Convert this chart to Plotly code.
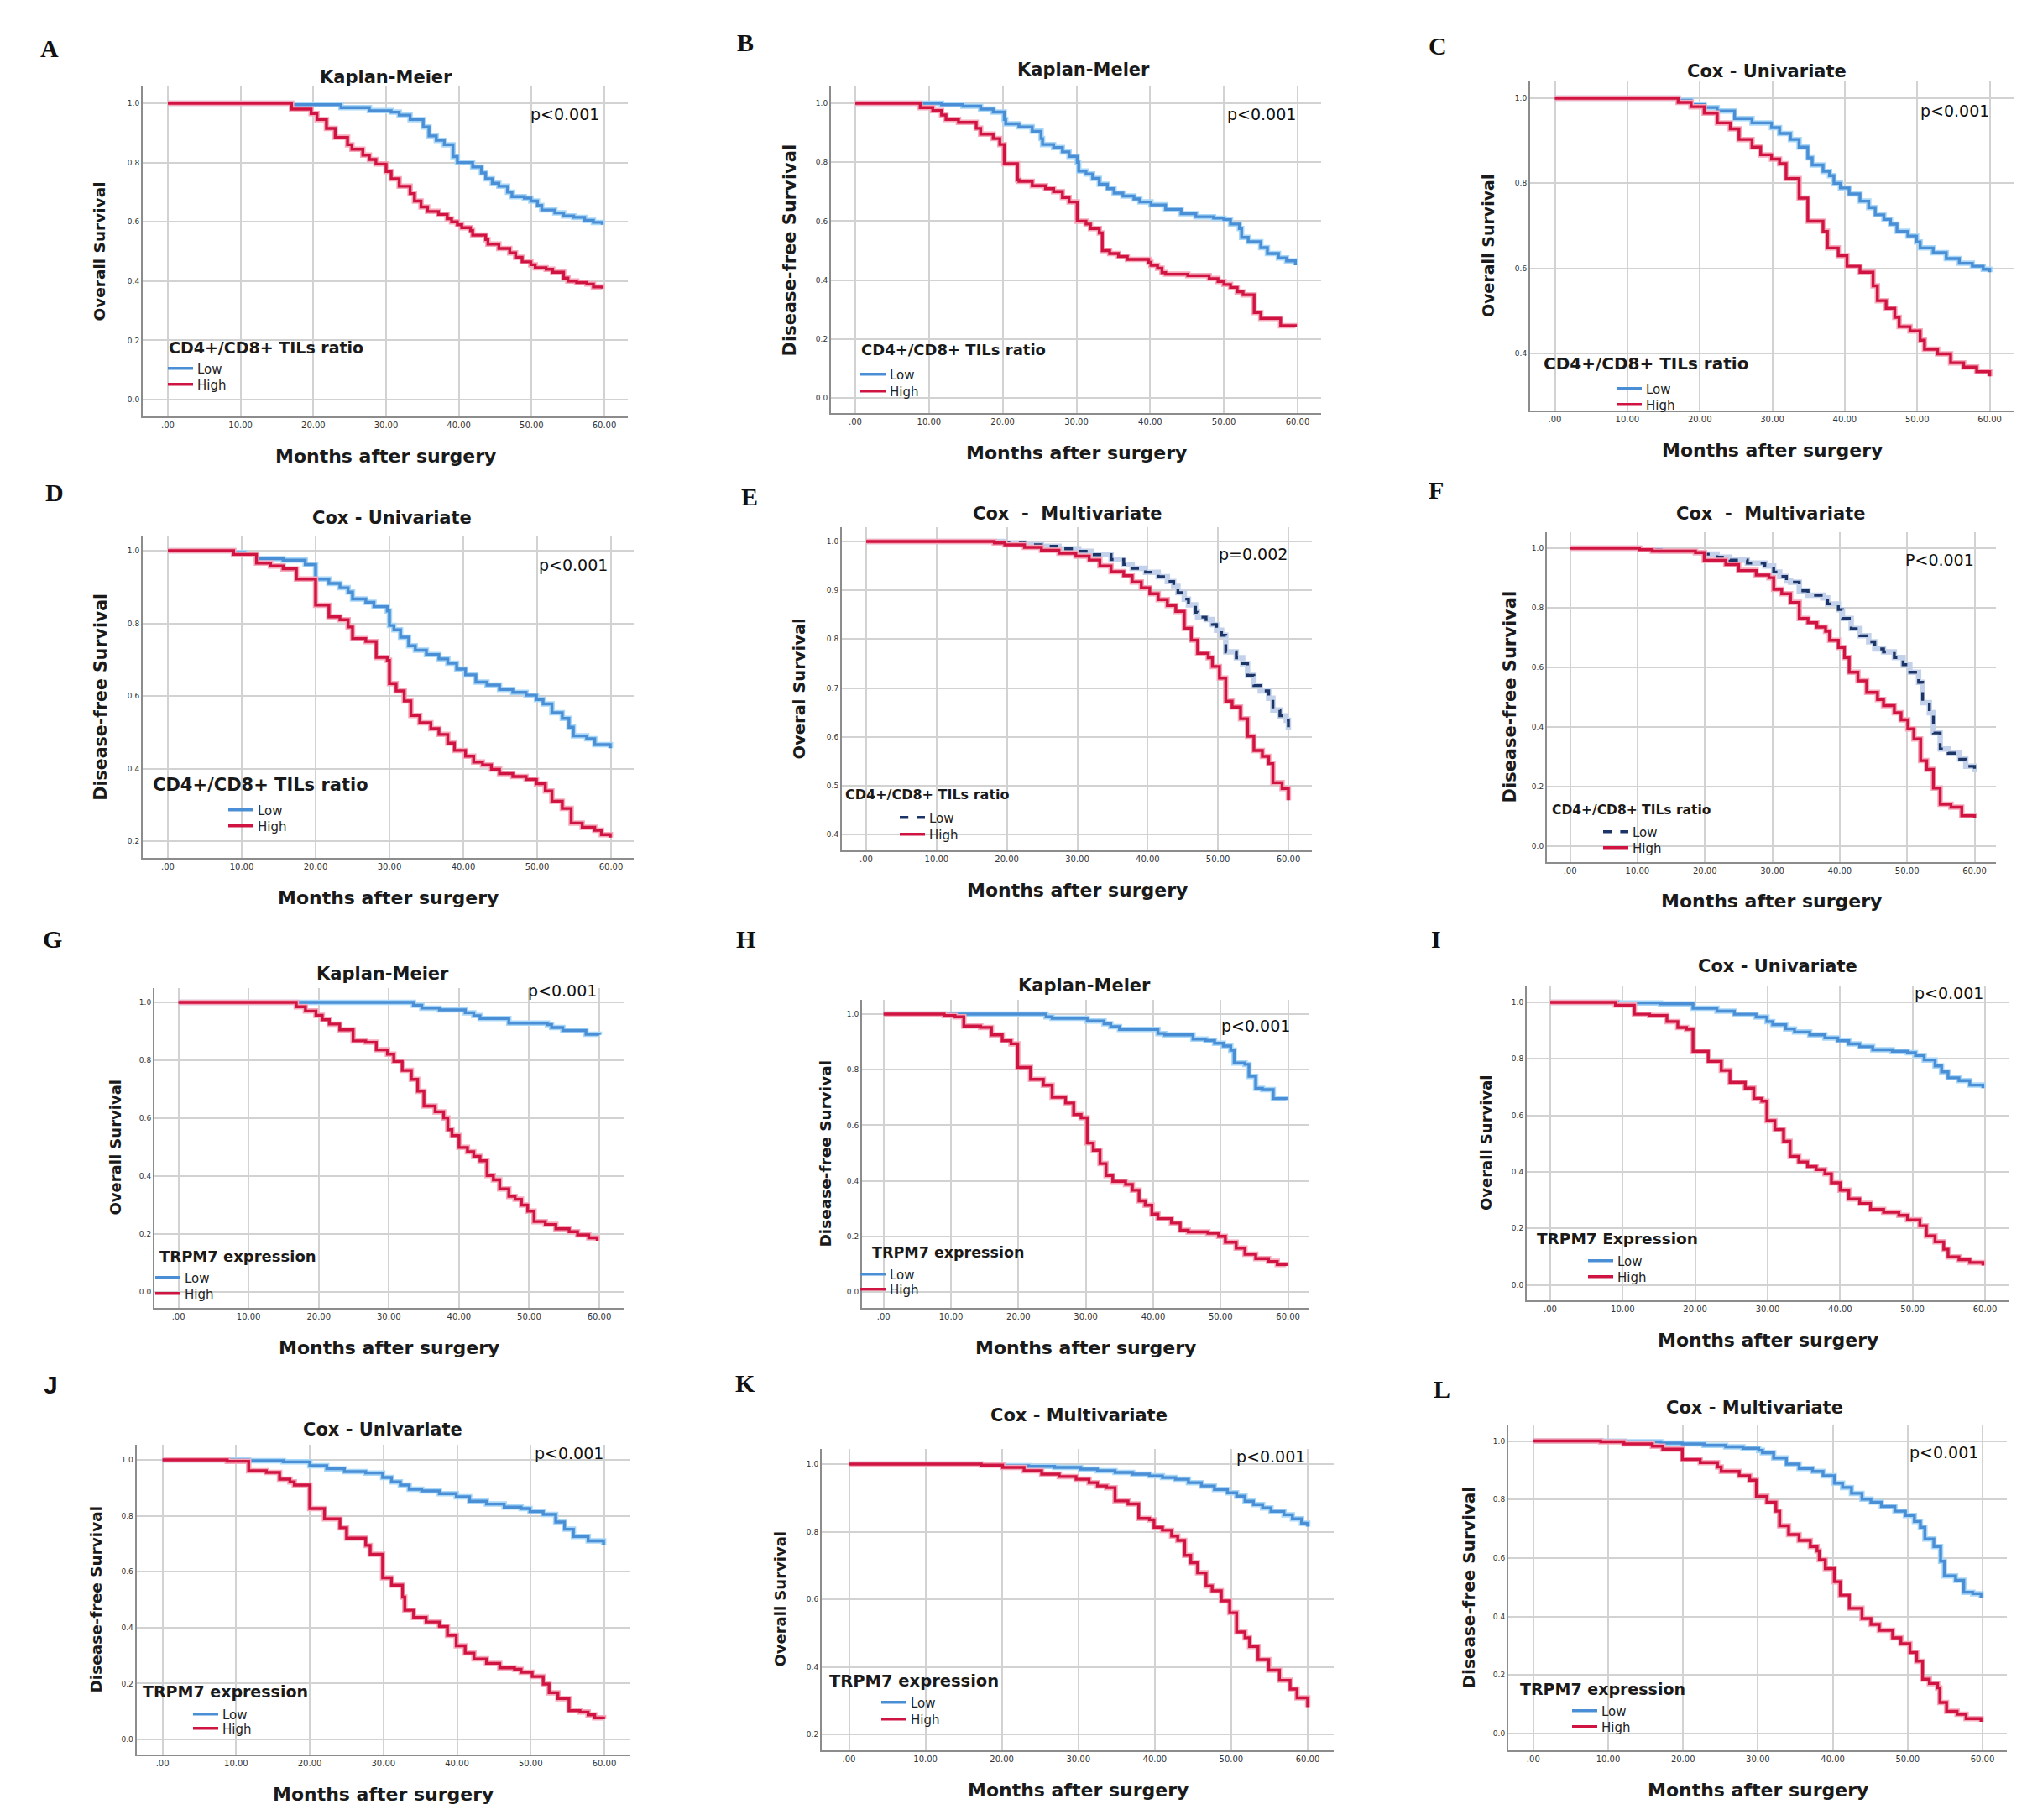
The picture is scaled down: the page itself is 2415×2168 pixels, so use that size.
import plotly.graph_objects as go

W, H = 2415, 2168

# ---------------- tick labels / categories ----------------
XTICK_VALS = [0, 10, 20, 30, 40, 50, 60]
XTICK_TEXT = ['.00', '10.00', '20.00', '30.00', '40.00', '50.00', '60.00']
YT_0_1 = [0.0, 0.2, 0.4, 0.6, 0.8, 1.0]
YT_04_1 = [0.4, 0.6, 0.8, 1.0]
YT_02_1 = [0.2, 0.4, 0.6, 0.8, 1.0]
YT_E = [0.4, 0.5, 0.6, 0.7, 0.8, 0.9, 1.0]
GROUPS = ['Low', 'High']

# ---------------- survival data (months, survival probability) ----------------
A_low_t = [0, 17.0, 23.8, 27.7, 30.7, 31.8, 33.3, 35.1, 35.9, 36.9, 38.0, 39.2, 39.8, 41.9, 43.1, 43.7, 44.6, 45.5, 46.7, 47.3, 49.0, 49.9, 50.8, 51.4, 53.2, 54.4, 55.8, 57.3, 58.5, 59.7]
A_low_s = [1.0, 0.995, 0.985, 0.975, 0.97, 0.96, 0.945, 0.92, 0.89, 0.875, 0.86, 0.82, 0.80, 0.785, 0.765, 0.745, 0.73, 0.72, 0.70, 0.685, 0.68, 0.67, 0.655, 0.64, 0.63, 0.62, 0.615, 0.605, 0.598, 0.59]
A_high_t = [0, 17.0, 19.7, 20.5, 21.8, 23.0, 24.7, 25.3, 26.8, 27.7, 28.6, 30.0, 30.7, 31.8, 33.3, 33.9, 34.8, 35.7, 37.2, 38.4, 39.0, 39.8, 40.4, 41.6, 41.9, 43.7, 44.0, 45.5, 47.0, 47.8, 48.7, 49.9, 50.5, 52.0, 52.9, 54.4, 55.0, 56.2, 57.6, 58.5, 59.7]
A_high_s = [1.0, 0.98, 0.965, 0.945, 0.915, 0.885, 0.86, 0.845, 0.825, 0.81, 0.795, 0.77, 0.745, 0.72, 0.695, 0.67, 0.65, 0.635, 0.625, 0.61, 0.60, 0.59, 0.58, 0.57, 0.555, 0.54, 0.525, 0.51, 0.495, 0.48, 0.465, 0.455, 0.445, 0.44, 0.43, 0.41, 0.40, 0.395, 0.39, 0.38, 0.375]

B_low_t = [0, 11.7, 14.6, 17.0, 18.7, 20.2, 20.4, 22.2, 24.0, 25.2, 25.4, 26.9, 28.1, 29.0, 30.1, 30.3, 31.3, 32.2, 33.1, 34.2, 35.1, 36.3, 37.8, 38.6, 40.1, 42.1, 44.2, 46.2, 48.6, 50.0, 50.9, 52.1, 52.4, 53.3, 55.0, 55.9, 57.4, 58.5, 59.7]
B_low_s = [1.0, 0.995, 0.99, 0.98, 0.97, 0.945, 0.93, 0.92, 0.905, 0.88, 0.86, 0.85, 0.835, 0.82, 0.80, 0.77, 0.76, 0.745, 0.725, 0.71, 0.695, 0.685, 0.675, 0.665, 0.655, 0.64, 0.625, 0.615, 0.61, 0.605, 0.59, 0.575, 0.545, 0.53, 0.51, 0.49, 0.475, 0.465, 0.45]
B_high_t = [0, 8.8, 10.5, 11.7, 12.3, 14.0, 16.4, 17.0, 18.7, 19.6, 20.2, 22.0, 22.2, 24.0, 25.8, 26.9, 28.1, 29.0, 30.1, 31.3, 31.9, 33.1, 33.5, 34.5, 35.7, 36.9, 39.8, 40.1, 41.0, 41.6, 42.1, 45.1, 48.0, 49.2, 50.0, 50.9, 51.8, 52.6, 54.1, 55.0, 57.7, 59.7]
B_high_s = [1.0, 0.985, 0.975, 0.96, 0.945, 0.935, 0.915, 0.895, 0.88, 0.86, 0.795, 0.74, 0.735, 0.72, 0.71, 0.70, 0.68, 0.665, 0.60, 0.59, 0.575, 0.56, 0.50, 0.49, 0.48, 0.47, 0.46, 0.45, 0.44, 0.425, 0.42, 0.415, 0.405, 0.395, 0.385, 0.375, 0.36, 0.35, 0.29, 0.27, 0.245, 0.24]

C_low_t = [0, 17.0, 18.8, 20.6, 22.4, 24.8, 27.2, 29.9, 31.0, 32.5, 33.7, 34.9, 35.5, 37.0, 37.9, 38.5, 39.4, 40.6, 42.1, 43.3, 44.2, 45.4, 46.3, 47.2, 48.7, 49.9, 50.4, 52.2, 54.0, 55.8, 57.6, 59.1, 60.0]
C_low_s = [1.0, 0.995, 0.985, 0.978, 0.97, 0.952, 0.942, 0.931, 0.917, 0.903, 0.885, 0.86, 0.843, 0.828, 0.818, 0.80, 0.789, 0.775, 0.758, 0.743, 0.726, 0.715, 0.704, 0.687, 0.676, 0.662, 0.648, 0.637, 0.623, 0.612, 0.605, 0.598, 0.591]
C_high_t = [0, 17.0, 18.8, 20.6, 22.4, 24.2, 25.4, 27.2, 28.4, 29.9, 31.0, 31.9, 33.7, 34.9, 37.0, 37.6, 39.1, 40.3, 42.1, 43.9, 44.5, 45.7, 46.9, 47.5, 49.0, 50.4, 51.0, 52.8, 54.6, 56.4, 58.2, 60.0]
C_high_s = [1.0, 0.99, 0.98, 0.965, 0.942, 0.928, 0.903, 0.885, 0.867, 0.857, 0.846, 0.811, 0.765, 0.711, 0.687, 0.648, 0.63, 0.605, 0.591, 0.559, 0.524, 0.506, 0.485, 0.463, 0.453, 0.431, 0.41, 0.399, 0.378, 0.368, 0.357, 0.346]

D_low_t = [0, 8.9, 10.4, 12.0, 15.6, 18.6, 20.0, 21.8, 23.3, 24.4, 25.0, 26.8, 27.9, 29.7, 30.0, 30.6, 31.5, 32.6, 33.5, 35.0, 36.7, 37.9, 39.1, 40.3, 41.7, 43.2, 44.9, 46.7, 48.5, 49.9, 50.8, 52.0, 53.4, 54.3, 54.9, 56.7, 57.8, 59.9]
D_low_s = [1.0, 0.995, 0.99, 0.978, 0.974, 0.962, 0.922, 0.910, 0.898, 0.886, 0.867, 0.858, 0.846, 0.834, 0.794, 0.782, 0.762, 0.738, 0.726, 0.714, 0.702, 0.690, 0.674, 0.658, 0.638, 0.630, 0.618, 0.610, 0.602, 0.590, 0.578, 0.554, 0.538, 0.514, 0.490, 0.482, 0.466, 0.456]
D_high_t = [0, 8.9, 12.0, 13.9, 15.6, 17.4, 20.0, 21.8, 23.3, 24.4, 25.0, 26.8, 28.2, 29.7, 30.0, 30.9, 32.0, 32.9, 34.1, 35.6, 36.7, 37.9, 38.8, 40.3, 41.4, 42.6, 43.8, 44.9, 46.7, 48.5, 49.9, 51.1, 52.0, 53.4, 54.6, 56.1, 57.8, 58.7, 59.9]
D_high_s = [1.0, 0.99, 0.966, 0.958, 0.95, 0.922, 0.85, 0.818, 0.81, 0.79, 0.758, 0.75, 0.706, 0.698, 0.634, 0.614, 0.586, 0.546, 0.526, 0.51, 0.494, 0.47, 0.45, 0.434, 0.418, 0.41, 0.398, 0.386, 0.378, 0.37, 0.358, 0.338, 0.31, 0.29, 0.25, 0.238, 0.23, 0.218, 0.21]

E_low_t = [0, 19.4, 22.5, 24.9, 27.4, 30.2, 32.0, 34.8, 36.6, 37.8, 39.7, 41.5, 42.8, 43.7, 44.3, 45.2, 45.8, 46.8, 47.1, 48.3, 49.2, 49.8, 50.5, 51.1, 52.6, 53.5, 54.2, 55.1, 56.0, 57.2, 57.8, 58.8, 59.7, 60.0]
E_low_s = [1.0, 0.997, 0.993, 0.99, 0.985, 0.98, 0.973, 0.963, 0.953, 0.945, 0.937, 0.928, 0.918, 0.908, 0.895, 0.882, 0.87, 0.855, 0.845, 0.84, 0.83, 0.818, 0.808, 0.774, 0.762, 0.75, 0.726, 0.705, 0.694, 0.679, 0.655, 0.643, 0.634, 0.613]
E_high_t = [0, 18.2, 19.7, 22.5, 24.9, 27.4, 29.8, 31.7, 33.2, 34.8, 36.6, 37.8, 39.1, 40.3, 41.5, 42.8, 44.0, 45.2, 46.2, 47.1, 48.6, 49.2, 50.2, 51.1, 52.0, 53.2, 54.2, 55.1, 56.3, 57.2, 57.8, 59.1, 60.0]
E_high_s = [1.0, 0.997, 0.993, 0.988, 0.982, 0.976, 0.97, 0.962, 0.95, 0.938, 0.93, 0.917, 0.905, 0.893, 0.881, 0.869, 0.857, 0.822, 0.798, 0.771, 0.762, 0.744, 0.72, 0.673, 0.661, 0.637, 0.601, 0.572, 0.56, 0.545, 0.506, 0.494, 0.47]

F_low_t = [0, 10.3, 13.5, 18.6, 19.9, 21.8, 23.7, 26.3, 28.9, 30.2, 31.1, 32.1, 32.7, 34.0, 35.3, 37.5, 38.2, 39.8, 40.4, 41.7, 43.0, 44.3, 45.2, 46.5, 48.1, 49.4, 50.4, 51.7, 52.3, 53.3, 53.9, 54.9, 56.1, 57.8, 58.7, 60.0]
F_low_s = [1.0, 0.995, 0.99, 0.985, 0.98, 0.97, 0.96, 0.95, 0.94, 0.92, 0.905, 0.89, 0.886, 0.857, 0.842, 0.833, 0.813, 0.794, 0.764, 0.73, 0.706, 0.686, 0.662, 0.652, 0.633, 0.609, 0.584, 0.55, 0.482, 0.448, 0.38, 0.326, 0.312, 0.292, 0.268, 0.248]
F_high_t = [0, 10.3, 12.2, 18.6, 19.9, 23.1, 25.0, 27.6, 29.5, 30.2, 31.4, 32.7, 34.0, 35.3, 36.6, 37.9, 38.5, 39.8, 40.7, 41.4, 42.7, 44.0, 45.6, 46.5, 48.1, 49.1, 50.1, 51.0, 52.0, 52.9, 53.9, 54.9, 56.5, 58.1, 60.0]
F_high_s = [1.0, 0.995, 0.99, 0.985, 0.959, 0.945, 0.925, 0.91, 0.901, 0.862, 0.847, 0.818, 0.764, 0.75, 0.735, 0.721, 0.691, 0.667, 0.633, 0.584, 0.555, 0.516, 0.492, 0.472, 0.448, 0.424, 0.394, 0.36, 0.287, 0.258, 0.195, 0.141, 0.131, 0.102, 0.093]

G_low_t = [0, 33.5, 34.7, 37.2, 40.9, 42.1, 43.0, 47.1, 52.6, 53.2, 54.8, 58.1, 60.0]
G_low_s = [1.0, 0.99, 0.98, 0.974, 0.964, 0.954, 0.944, 0.928, 0.923, 0.913, 0.903, 0.89, 0.888]
G_high_t = [0, 16.8, 18.1, 19.6, 20.5, 21.5, 23.0, 24.9, 26.7, 28.2, 29.8, 30.7, 31.9, 33.2, 34.1, 35.0, 36.6, 37.8, 38.4, 39.0, 40.0, 41.2, 42.1, 43.0, 44.0, 44.9, 45.8, 47.1, 48.0, 48.9, 49.8, 50.7, 52.3, 53.8, 55.7, 56.9, 58.5, 59.7]
G_high_s = [1.0, 0.985, 0.97, 0.955, 0.94, 0.925, 0.905, 0.867, 0.862, 0.836, 0.821, 0.796, 0.765, 0.734, 0.693, 0.642, 0.622, 0.601, 0.56, 0.54, 0.499, 0.484, 0.468, 0.453, 0.402, 0.387, 0.356, 0.33, 0.32, 0.3, 0.279, 0.243, 0.233, 0.218, 0.208, 0.197, 0.187, 0.177]

H_low_t = [0, 24.1, 25.0, 30.2, 32.7, 33.7, 35.0, 40.7, 41.7, 45.9, 47.8, 49.1, 50.4, 51.5, 52.0, 53.6, 54.2, 55.2, 56.2, 57.8, 59.7]
H_low_s = [1.0, 0.99, 0.985, 0.975, 0.965, 0.955, 0.945, 0.93, 0.925, 0.91, 0.905, 0.895, 0.885, 0.87, 0.824, 0.819, 0.776, 0.733, 0.728, 0.696, 0.691]
H_high_t = [0, 9.0, 10.6, 11.9, 14.4, 16.0, 17.6, 18.9, 19.9, 21.8, 23.7, 25.0, 27.0, 28.2, 29.3, 30.2, 31.1, 32.1, 33.0, 34.0, 35.9, 36.9, 37.9, 38.8, 39.8, 40.7, 42.7, 44.0, 45.2, 48.1, 49.7, 50.7, 52.3, 53.6, 55.2, 57.1, 58.4, 59.7]
H_high_s = [1.0, 0.995, 0.99, 0.957, 0.952, 0.925, 0.904, 0.893, 0.808, 0.765, 0.744, 0.701, 0.68, 0.638, 0.627, 0.536, 0.51, 0.462, 0.419, 0.398, 0.387, 0.366, 0.328, 0.312, 0.28, 0.264, 0.248, 0.222, 0.216, 0.211, 0.2, 0.179, 0.158, 0.136, 0.12, 0.11, 0.099, 0.094]

I_low_t = [0, 9.3, 15.2, 19.7, 23.0, 25.4, 28.4, 29.9, 30.7, 32.5, 33.7, 35.8, 37.9, 39.7, 41.2, 42.7, 44.5, 47.2, 49.3, 50.4, 51.6, 53.1, 54.0, 54.9, 56.4, 57.9, 59.7]
I_low_s = [1.0, 0.998, 0.995, 0.979, 0.969, 0.958, 0.948, 0.932, 0.921, 0.906, 0.895, 0.885, 0.874, 0.864, 0.853, 0.843, 0.832, 0.827, 0.822, 0.812, 0.796, 0.775, 0.754, 0.733, 0.723, 0.707, 0.696]
I_high_t = [0, 9.0, 11.6, 13.7, 16.1, 17.6, 18.8, 19.7, 21.8, 23.6, 24.8, 26.9, 28.1, 29.2, 29.9, 31.0, 32.2, 33.1, 34.3, 35.5, 36.7, 37.9, 38.8, 40.0, 41.2, 42.7, 44.2, 46.0, 48.1, 49.3, 51.0, 51.9, 53.1, 54.3, 54.9, 56.4, 57.9, 59.7]
I_high_s = [1.0, 0.99, 0.958, 0.953, 0.932, 0.911, 0.905, 0.827, 0.791, 0.759, 0.717, 0.696, 0.66, 0.65, 0.581, 0.55, 0.508, 0.455, 0.435, 0.419, 0.408, 0.393, 0.361, 0.335, 0.304, 0.288, 0.267, 0.257, 0.246, 0.23, 0.209, 0.173, 0.152, 0.126, 0.099, 0.089, 0.079, 0.068]

J_low_t = [0, 11.7, 16.4, 20.0, 22.3, 24.7, 27.6, 29.9, 31.1, 32.3, 33.5, 35.2, 37.6, 39.9, 41.7, 44.0, 46.4, 48.7, 49.9, 51.7, 53.4, 54.6, 55.8, 57.8, 59.9]
J_low_s = [1.0, 0.997, 0.993, 0.979, 0.968, 0.958, 0.953, 0.937, 0.921, 0.91, 0.895, 0.889, 0.879, 0.868, 0.852, 0.842, 0.831, 0.826, 0.815, 0.805, 0.778, 0.752, 0.726, 0.71, 0.696]
J_high_t = [0, 8.8, 11.7, 14.1, 15.9, 17.3, 17.9, 20.0, 22.0, 24.1, 25.0, 27.6, 28.2, 29.9, 31.1, 32.6, 32.9, 34.1, 35.8, 37.6, 38.7, 39.9, 41.1, 42.3, 44.0, 45.8, 47.8, 48.7, 50.2, 51.7, 52.5, 53.7, 55.2, 56.7, 57.8, 58.7, 59.9]
J_high_s = [1.0, 0.995, 0.961, 0.955, 0.931, 0.921, 0.91, 0.826, 0.789, 0.757, 0.72, 0.694, 0.662, 0.578, 0.552, 0.509, 0.462, 0.436, 0.42, 0.404, 0.372, 0.335, 0.309, 0.288, 0.272, 0.256, 0.251, 0.24, 0.225, 0.198, 0.167, 0.146, 0.103, 0.098, 0.088, 0.077, 0.072]

K_low_t = [0, 17.3, 20.1, 23.5, 26.9, 30.3, 32.5, 34.8, 37.1, 39.3, 41.0, 42.7, 44.4, 46.1, 47.8, 49.5, 50.7, 51.8, 52.9, 54.1, 55.2, 56.9, 58.0, 59.2, 60.0]
K_low_s = [1.0, 0.998, 0.995, 0.993, 0.99, 0.985, 0.98, 0.975, 0.97, 0.965, 0.96, 0.955, 0.945, 0.935, 0.925, 0.915, 0.905, 0.89, 0.88, 0.87, 0.86, 0.85, 0.838, 0.825, 0.815]
K_high_t = [0, 17.3, 20.1, 22.9, 25.2, 27.5, 29.7, 31.4, 32.5, 33.7, 34.8, 36.5, 37.9, 39.3, 39.9, 41.0, 42.2, 43.0, 43.9, 44.7, 45.6, 46.7, 47.5, 48.7, 49.8, 50.7, 51.8, 52.4, 53.5, 54.9, 56.3, 57.7, 58.6, 60.0]
K_high_s = [1.0, 0.997, 0.99, 0.98, 0.97, 0.963, 0.955, 0.945, 0.935, 0.93, 0.891, 0.882, 0.839, 0.835, 0.813, 0.804, 0.787, 0.774, 0.73, 0.708, 0.678, 0.639, 0.625, 0.595, 0.56, 0.503, 0.486, 0.46, 0.421, 0.39, 0.36, 0.334, 0.308, 0.281]

L_low_t = [0, 9.0, 12.1, 17.0, 19.9, 22.8, 25.7, 28.0, 30.1, 30.6, 32.1, 33.8, 35.5, 37.3, 38.7, 40.2, 41.3, 42.5, 43.9, 45.1, 46.5, 48.3, 49.7, 50.9, 51.7, 52.3, 53.5, 54.4, 54.9, 56.4, 57.5, 58.7, 59.8]
L_low_s = [1.0, 0.999, 0.997, 0.993, 0.99, 0.985, 0.98, 0.975, 0.968, 0.96, 0.942, 0.921, 0.906, 0.896, 0.881, 0.856, 0.841, 0.821, 0.801, 0.791, 0.776, 0.76, 0.745, 0.725, 0.705, 0.665, 0.639, 0.589, 0.539, 0.524, 0.483, 0.478, 0.463]
L_high_t = [0, 9.0, 12.1, 15.9, 17.3, 19.9, 22.3, 24.6, 25.1, 27.5, 28.9, 29.8, 31.2, 32.4, 32.9, 34.1, 35.5, 37.0, 37.9, 38.2, 39.0, 40.2, 41.0, 42.2, 43.9, 45.1, 46.2, 48.0, 49.1, 50.3, 51.2, 52.0, 52.9, 54.0, 54.3, 55.2, 56.6, 57.8, 59.8]
L_high_s = [1.0, 0.997, 0.99, 0.982, 0.972, 0.937, 0.926, 0.911, 0.896, 0.881, 0.866, 0.811, 0.791, 0.76, 0.71, 0.68, 0.66, 0.639, 0.624, 0.594, 0.564, 0.519, 0.473, 0.428, 0.393, 0.373, 0.353, 0.327, 0.307, 0.277, 0.247, 0.186, 0.171, 0.156, 0.106, 0.076, 0.066, 0.051, 0.04]

# ---------------- panel layout (pixel geometry of the page) ----------------
CD = 'CD4+/CD8+ TILs ratio'
TR = 'TRPM7 expression'
OS = 'Overall Survival'
DFS = 'Disease-free Survival'
KM = 'Kaplan-Meier'
CU = 'Cox - Univariate'
CM = 'Cox\u00a0\u00a0-\u00a0\u00a0Multivariate'

PANELS = [
    dict(letter='A', data=(A_low_t, A_low_s, A_high_t, A_high_s), box=(162, 740, 95, 488), xcal=(192, 712),
         ycal=(1.0, 115, 0.0, 468), yt=YT_0_1, title=KM, txy=(452, 84), lxy=(51, 50), ytitle=OS, ytx=110, yts=18.5,
         p='p<0.001', pxy=(665, 128), lt=CD, ltxy=(191, 406), lts=19, legxy=(191, 431, 450), dashed=False),
    dict(letter='B', data=(B_low_t, B_low_s, B_high_t, B_high_s), box=(982, 1566, 95, 484), xcal=(1011, 1538),
         ycal=(1.0, 115, 0.0, 466), yt=YT_0_1, title=KM, txy=(1283, 75), lxy=(880, 43), ytitle=DFS, ytx=933, yts=21,
         p='p<0.001', pxy=(1495, 128), lt=CD, ltxy=(1016, 409), lts=18, legxy=(1016, 438, 458), dashed=False),
    dict(letter='C', data=(C_low_t, C_low_s, C_high_t, C_high_s), box=(1815, 2391, 89, 481), xcal=(1844.5, 2362.6),
         ycal=(1.0, 109, 0.4, 413), yt=YT_04_1, title=CU, txy=(2097, 77), lxy=(1705, 47), ytitle=OS, ytx=1765, yts=19,
         p='p<0.001', pxy=(2321, 124), lt=CD, ltxy=(1829, 425), lts=20, legxy=(1917, 455, 474), dashed=False),
    dict(letter='D', data=(D_low_t, D_low_s, D_high_t, D_high_s), box=(162, 747, 631, 1014), xcal=(192, 720),
         ycal=(1.0, 648, 0.2, 994), yt=YT_02_1, title=CU, txy=(459, 609), lxy=(57, 578), ytitle=DFS, ytx=111, yts=20.5,
         p='p<0.001', pxy=(675, 665), lt=CD, ltxy=(172, 927), lts=21, legxy=(263, 957, 976), dashed=False),
    dict(letter='E', data=(E_low_t, E_low_s, E_high_t, E_high_s), box=(995, 1555, 620, 1005), xcal=(1024, 1527),
         ycal=(1.0, 637, 0.4, 986), yt=YT_E, title=CM, txy=(1264, 604), lxy=(885, 583), ytitle='Overal Survival', ytx=944, yts=19.5,
         p='p=0.002', pxy=(1485, 652), lt=CD, ltxy=(997, 938), lts=16, legxy=(1063, 966, 986), dashed=True),
    dict(letter='F', data=(F_low_t, F_low_s, F_high_t, F_high_s), box=(1835, 2370, 626, 1019), xcal=(1862.6, 2344.5),
         ycal=(1.0, 645, 0.0, 1000), yt=YT_0_1, title=CM, txy=(2102, 604), lxy=(1703, 575), ytitle=DFS, ytx=1790, yts=21,
         p='P<0.001', pxy=(2303, 659), lt=CD, ltxy=(1839, 957), lts=15.5, legxy=(1901, 983, 1002), dashed=True),
    dict(letter='G', data=(G_low_t, G_low_s, G_high_t, G_high_s), box=(176, 734.5, 1169, 1550), xcal=(204.6, 706),
         ycal=(1.0, 1186, 0.0, 1531), yt=YT_0_1, title=KM, txy=(448, 1152), lxy=(54, 1110), ytitle=OS, ytx=129, yts=18,
         p='p<0.001', pxy=(662, 1172), lt=TR, ltxy=(180, 1488), lts=18, legxy=(176, 1514, 1533), dashed=False),
    dict(letter='H', data=(H_low_t, H_low_s, H_high_t, H_high_s), box=(1019, 1552, 1183, 1550), xcal=(1044.7, 1526.6),
         ycal=(1.0, 1200, 0.0, 1531), yt=YT_0_1, title=KM, txy=(1284, 1166), lxy=(880, 1110), ytitle=DFS, ytx=975, yts=18.5,
         p='p<0.001', pxy=(1488, 1214), lt=TR, ltxy=(1029, 1484), lts=17.5, legxy=(1016, 1510, 1528), dashed=False),
    dict(letter='I', data=(I_low_t, I_low_s, I_high_t, I_high_s), box=(1811, 2386, 1167, 1541), xcal=(1839, 2357),
         ycal=(1.0, 1186, 0.0, 1522.5), yt=YT_0_1, title=CU, txy=(2110, 1143), lxy=(1703, 1110), ytitle=OS, ytx=1762, yts=18,
         p='p<0.001', pxy=(2314, 1175), lt='TRPM7 Expression', ltxy=(1821, 1467), lts=18.5, legxy=(1883, 1494, 1513), dashed=False),
    dict(letter='J', data=(J_low_t, J_low_s, J_high_t, J_high_s), box=(154.6, 742, 1713, 2082), xcal=(185.6, 712),
         ycal=(1.0, 1731, 0.0, 2064), yt=YT_0_1, title=CU, txy=(448, 1695), lxy=(52, 1641), ytitle=DFS, ytx=106, yts=18.5,
         p='p<0.001', pxy=(670, 1723), lt=TR, ltxy=(160, 2007), lts=19, legxy=(221, 2034, 2051), dashed=False),
    dict(letter='K', data=(K_low_t, K_low_s, K_high_t, K_high_s), box=(971, 1581, 1718, 2077), xcal=(1003.5, 1550),
         ycal=(1.0, 1736, 0.2, 2058), yt=YT_02_1, title='Cox - Multivariate', txy=(1277, 1678), lxy=(880, 1639), ytitle=OS, ytx=921, yts=18,
         p='p<0.001', pxy=(1506, 1727), lt=TR, ltxy=(978, 1994), lts=19.5, legxy=(1041, 2020, 2040), dashed=False),
    dict(letter='L', data=(L_low_t, L_low_s, L_high_t, L_high_s), box=(1789, 2383, 1690, 2077), xcal=(1818.8, 2354),
         ycal=(1.0, 1708.5, 0.0, 2057), yt=YT_0_1, title='Cox - Multivariate', txy=(2082, 1669), lxy=(1710, 1646), ytitle=DFS, ytx=1741, yts=20,
         p='p<0.001', pxy=(2308, 1722), lt=TR, ltxy=(1801, 2004), lts=19, legxy=(1864, 2030, 2049), dashed=False),
]

BLUE = '#4a8fd6'
BLUE_HALO = '#a9d7f7'
NAVY = '#1d3566'
NAVY_HALO = '#c3d2ea'
RED = '#d01442'
RED_HALO = '#f6a9bb'
FONT = 'DejaVu Sans'


def px(x):
    return x / W


def py(y):
    return 1 - y / H


fig = go.Figure()
annotations = []
layout = {}
leg_count = 0

for i, p in enumerate(PANELS):
    n = i + 1
    sfx = '' if n == 1 else str(n)
    xa, ya = 'x' + sfx, 'y' + sfx
    left, right, top, bottom = p['box']
    x0p, x60p = p['xcal']
    va, pa, vb, pb = p['ycal']
    kx = 60.0 / (x60p - x0p)
    xr = [(left - x0p) * kx, (right - x0p) * kx]
    ky = (va - vb) / (pb - pa)
    yr = [va + (pa - bottom) * ky, va + (pa - top) * ky]

    lt_, ls_, ht_, hs_ = p['data']
    low_col, low_halo = (NAVY, NAVY_HALO) if p['dashed'] else (BLUE, BLUE_HALO)
    dash = 'dash' if p['dashed'] else 'solid'

    lx, ly_low, ly_high = p['legxy']
    legs = []
    for yy in (ly_low, ly_high):
        leg_count += 1
        name = 'legend' if leg_count == 1 else 'legend%d' % leg_count
        legs.append(name)
        layout[name] = dict(x=px(lx - 4), y=py(yy), xanchor='left', yanchor='middle',
                            bgcolor='rgba(0,0,0,0)', borderwidth=0, itemwidth=30,
                            font=dict(family=FONT, size=15, color='#222'), tracegroupgap=0)

    fig.add_trace(go.Scatter(x=lt_, y=ls_, mode='lines', line=dict(shape='hv', color=low_halo, width=6.5),
                             xaxis=xa, yaxis=ya, showlegend=False, hoverinfo='skip'))
    fig.add_trace(go.Scatter(x=lt_, y=ls_, mode='lines', name=GROUPS[0],
                             line=dict(shape='hv', color=low_col, width=3.4, dash=dash),
                             xaxis=xa, yaxis=ya, legend=legs[0]))
    fig.add_trace(go.Scatter(x=ht_, y=hs_, mode='lines', line=dict(shape='hv', color=RED_HALO, width=6.5),
                             xaxis=xa, yaxis=ya, showlegend=False, hoverinfo='skip'))
    fig.add_trace(go.Scatter(x=ht_, y=hs_, mode='lines', name=GROUPS[1],
                             line=dict(shape='hv', color=RED, width=3.4),
                             xaxis=xa, yaxis=ya, legend=legs[1]))

    layout['xaxis' + sfx] = dict(
        domain=[px(left), px(right)], range=xr, anchor=ya,
        tickvals=XTICK_VALS, ticktext=XTICK_TEXT, ticks='',
        tickfont=dict(family=FONT, size=10, color='#333'),
        showgrid=True, gridcolor='#d2d2d2', gridwidth=2, zeroline=False,
        showline=True, linecolor='#8c8c8c', linewidth=2, fixedrange=True)
    layout['yaxis' + sfx] = dict(
        domain=[py(bottom), py(top)], range=yr, anchor=xa,
        tickvals=p['yt'], ticktext=['%.1f' % v for v in p['yt']], ticks='',
        tickfont=dict(family=FONT, size=9, color='#333'),
        showgrid=True, gridcolor='#d2d2d2', gridwidth=2, zeroline=False,
        showline=True, linecolor='#8c8c8c', linewidth=2, fixedrange=True)

    serif = p['letter'] != 'J'
    annotations.append(dict(x=px(p['lxy'][0]), y=py(p['lxy'][1]), xref='paper', yref='paper',
                            text='<b>%s</b>' % p['letter'], showarrow=False, xanchor='center', yanchor='middle',
                            font=dict(family='Liberation Serif' if serif else 'Liberation Sans', size=30, color='#111')))
    annotations.append(dict(x=px(p['txy'][0]), y=py(p['txy'][1]), xref='paper', yref='paper',
                            text='<b>%s</b>' % p['title'], showarrow=False, xanchor='center', yanchor='middle',
                            font=dict(family=FONT, size=21, color='#1a1a1a')))
    annotations.append(dict(x=px(p['ytx']), y=py((top + bottom) / 2), xref='paper', yref='paper',
                            text='<b>%s</b>' % p['ytitle'], showarrow=False, textangle=-90,
                            xanchor='center', yanchor='middle',
                            font=dict(family=FONT, size=p['yts'], color='#1a1a1a')))
    annotations.append(dict(x=px((left + right) / 2), y=py(bottom + 47), xref='paper', yref='paper',
                            text='<b>Months after surgery</b>', showarrow=False, xanchor='center', yanchor='middle',
                            font=dict(family=FONT, size=22, color='#1a1a1a')))
    annotations.append(dict(x=px(p['pxy'][0]), y=py(p['pxy'][1]), xref='paper', yref='paper',
                            text=p['p'], showarrow=False, xanchor='center', yanchor='middle',
                            font=dict(family=FONT, size=19, color='#111')))
    annotations.append(dict(x=px(p['ltxy'][0]), y=py(p['ltxy'][1]), xref='paper', yref='paper',
                            text='<b>%s</b>' % p['lt'], showarrow=False, xanchor='left', yanchor='middle',
                            font=dict(family=FONT, size=p['lts'], color='#1a1a1a')))

fig.update_layout(width=W, height=H, autosize=False, margin=dict(l=0, r=0, t=0, b=0),
                  paper_bgcolor='white', plot_bgcolor='white', annotations=annotations, **layout)

fig.write_html('out.html')
